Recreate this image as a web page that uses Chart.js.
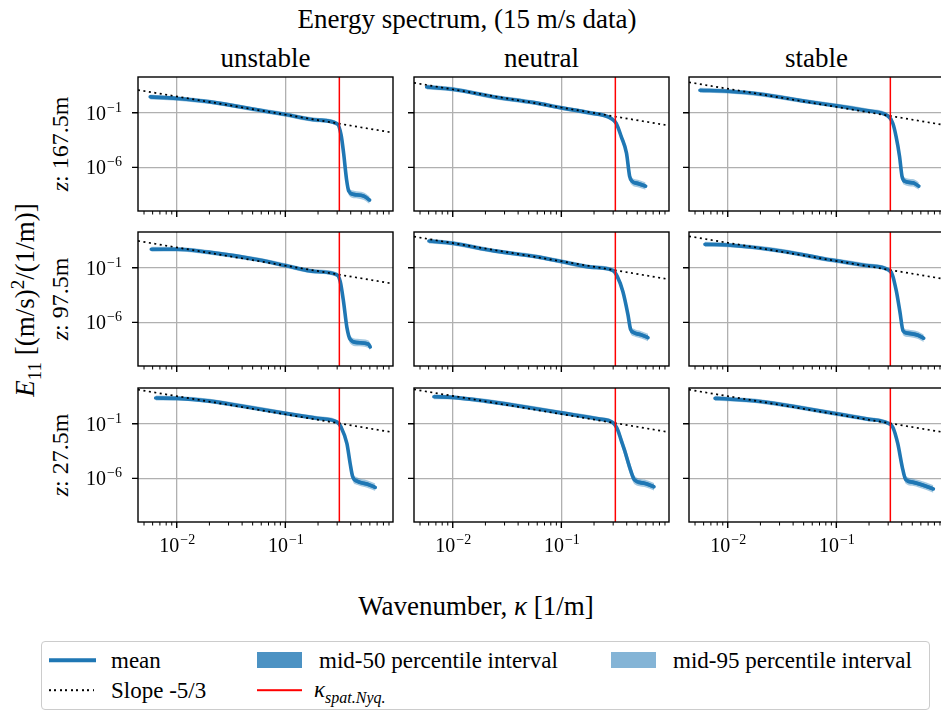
<!DOCTYPE html>
<html>
<head>
<meta charset="utf-8">
<script src="https://cdn.jsdelivr.net/npm/chart.js@4.4.1/dist/chart.umd.min.js"></script>
<style>
  body { margin: 0; width: 941px; height: 711px; overflow: hidden; background: #fff;
         font-family: "Liberation Serif", serif; color: #000; position: relative; }
  .txt { position: absolute; white-space: nowrap; transform: translate(-50%, -50%); line-height: 1; }
  .rot { transform: translate(-50%, -50%) rotate(-90deg); }
  .panel { position: absolute; }
  #legend { position: absolute; left: 41px; top: 641px; width: 889px; height: 69px;
            border: 1px solid #cccccc; border-radius: 4px; box-sizing: border-box; }
  .lg { position: absolute; transform: translateY(-50%); white-space: nowrap; font-size: 23px; line-height: 1; }
  .hd { position: absolute; transform: translateY(-50%); }
</style>
</head>
<body>

<div class="txt" style="left:467px;top:19px;font-size:27px">Energy spectrum, (15 m/s data)</div>
<div id="coltitles"></div>
<div id="rowlabels"></div>
<div class="txt rot" style="left:26px;top:300px;font-size:27px"><i>E</i><sub style="font-size:19px">11</sub> [(m/s)<sup style="font-size:19px">2</sup>/(1/m)]</div>
<div class="txt" style="left:476px;top:606px;font-size:27px">Wavenumber, <i>κ</i> [1/m]</div>

<div id="legend">
  <div class="hd" style="left:7px;top:18px;width:47px;height:3.5px;background:#1f77b4"></div>
  <div class="lg" style="left:69px;top:18px">mean</div>
  <div class="hd" style="left:215px;top:18px;width:45px;height:16px;background:#4c92c3"></div>
  <div class="lg" style="left:277px;top:18px">mid-50 percentile interval</div>
  <div class="hd" style="left:569px;top:18px;width:45px;height:16px;background:#84b4d6"></div>
  <div class="lg" style="left:631px;top:18px">mid-95 percentile interval</div>
  <div class="hd" style="left:7px;top:48px;width:45px;height:1.6px;background:repeating-linear-gradient(90deg,#000 0 2px,transparent 2px 5.5px)"></div>
  <div class="lg" style="left:69px;top:48px">Slope -5/3</div>
  <div class="hd" style="left:215px;top:48px;width:45px;height:1.6px;background:#ff0000"></div>
  <div class="lg" style="left:272px;top:50px"><i>κ</i><sub style="font-size:16px"><i>spat.Nyq.</i></sub></div>
</div>

<script>
// wavenumber [1/m] and mean spectrum E11 for each panel
const kUnstable167 = [0.0057, 0.01, 0.0202, 0.0697, 0.1, 0.196, 0.302, 0.326, 0.344, 0.366, 0.384, 0.427, 0.528, 0.597];
const eUnstable167 = [2.85, 2.04, 1.0, 0.123, 0.0700, 0.0219, 0.00933, 9.3e-4, 2.0e-5, 7.9e-8, 6.6e-9, 3.3e-9, 2.3e-9, 1.0e-9];
const kNeutral167  = [0.00575, 0.01, 0.024, 0.0562, 0.1, 0.175, 0.288, 0.320, 0.356, 0.398, 0.425, 0.447, 0.507, 0.597];
const eNeutral167  = [22.9, 14.1, 2.85, 0.85, 0.282, 0.105, 0.0300, 0.0107, 6.6e-4, 2.0e-5, 1.6e-7, 5.4e-8, 3.3e-8, 1.9e-8];
const kStable167   = [0.00555, 0.01, 0.0202, 0.0472, 0.1, 0.195, 0.299, 0.331, 0.355, 0.382, 0.402, 0.425, 0.507, 0.575];
const eStable167   = [11.5, 9.3, 5.0, 1.3, 0.437, 0.151, 0.0501, 0.011, 6.6e-4, 1.0e-5, 1.6e-7, 5.4e-8, 3.8e-8, 1.9e-8];

const kUnstable97 = [0.00583, 0.01, 0.0195, 0.0562, 0.1, 0.189, 0.299, 0.320, 0.343, 0.369, 0.395, 0.457, 0.583, 0.605];
const eUnstable97 = [5.0, 5.0, 2.7, 0.55, 0.162, 0.0457, 0.0229, 0.00562, 8.7e-5, 3.3e-7, 2.8e-8, 1.4e-8, 1.0e-8, 5.6e-9];
const kNeutral97  = [0.00604, 0.01, 0.024, 0.0605, 0.1, 0.188, 0.299, 0.327, 0.368, 0.410, 0.434, 0.466, 0.545, 0.628];
const eNeutral97  = [28.2, 17.4, 3.55, 1.0, 0.372, 0.115, 0.0562, 0.0162, 7.1e-4, 5.4e-6, 2.3e-7, 1.15e-7, 7.1e-8, 4.0e-8];
const kStable97   = [0.00617, 0.01, 0.0344, 0.0804, 0.1, 0.189, 0.300, 0.328, 0.357, 0.384, 0.412, 0.458, 0.566, 0.638];
const eStable97   = [14.1, 12.3, 3.0, 0.617, 0.437, 0.162, 0.066, 0.0229, 7.1e-4, 1.07e-5, 1.6e-7, 1.0e-7, 6.6e-8, 3.5e-8];

const kUnstable27 = [0.0064, 0.01, 0.0202, 0.0382, 0.1, 0.196, 0.300, 0.326, 0.369, 0.395, 0.417, 0.457, 0.565, 0.673];
const eUnstable27 = [22.9, 21.4, 12.0, 4.5, 0.9, 0.324, 0.141, 0.049, 1.5e-3, 2.3e-5, 1.4e-6, 5.6e-7, 3.0e-7, 1.5e-7];
const kNeutral27  = [0.00671, 0.01, 0.02, 0.0368, 0.1, 0.218, 0.299, 0.332, 0.355, 0.382, 0.434, 0.472, 0.583, 0.713];
const eNeutral27  = [30.2, 26.3, 12.0, 5.0, 1.0, 0.282, 0.123, 0.0245, 3.2e-3, 3.7e-4, 5.6e-6, 7.1e-7, 3.5e-7, 1.7e-7];
const kStable27   = [0.00764, 0.01, 0.02, 0.049, 0.1, 0.189, 0.300, 0.331, 0.368, 0.404, 0.434, 0.501, 0.583, 0.782];
const eStable27   = [21.4, 18.6, 11.2, 2.8, 0.813, 0.282, 0.112, 0.049, 1.5e-3, 1.15e-5, 8.1e-7, 4.5e-7, 3.0e-7, 1.07e-7];

// percentile intervals as multiplicative spread around the mean (per point)
const spread95          = [1.7, 1.6, 1.6, 1.6, 1.6, 1.6, 1.6, 1.8, 2.2, 2.4, 2.4, 2.2, 2.2, 2.2];
const spread50          = [1.3, 1.25, 1.25, 1.25, 1.25, 1.25, 1.25, 1.35, 1.5, 1.6, 1.6, 1.5, 1.5, 1.5];
const spread95Neutral27 = [1.7, 1.6, 1.6, 1.6, 1.6, 1.6, 1.6, 2.0, 3.0, 3.5, 3.5, 2.5, 2.2, 2.2];

// coefficient C of the reference line E = C * k^(-5/3), per panel
const slopeCoef = [1.45e-3, 6.5e-3, 7.4e-3, 3.4e-3, 8.5e-3, 9.1e-3, 1.58e-2, 1.66e-2, 1.58e-2];
const kNyquist  = 0.3142;

const colTitles = ['unstable', 'neutral', 'stable'];
const rowLabels = ['167.5m', '97.5m', '27.5m'];
const xMajor = [0.01, 0.1];
const xMinor = [0.005, 0.006, 0.007, 0.008, 0.009, 0.02, 0.03, 0.04, 0.05, 0.06, 0.07, 0.08, 0.09,
                0.2, 0.3, 0.4, 0.5, 0.6, 0.7, 0.8, 0.9];
const yMajor = [1e-6, 1e-1];
const xMin = 0.0044, xMax = 0.98, yMin = 1e-10, yMax = 190;

const panelK = [kUnstable167, kNeutral167, kStable167, kUnstable97, kNeutral97, kStable97, kUnstable27, kNeutral27, kStable27];
const panelE = [eUnstable167, eNeutral167, eStable167, eUnstable97, eNeutral97, eStable97, eUnstable27, eNeutral27, eStable27];

const colLeft = [138, 414, 689];
const rowTop  = [77, 232, 388];
const plotW = 255, plotH = 134;
const padL = 70, padT = 10, padR = 10, padB = 45;

function sciLabel(ctx, v, x, base, align) {
  const exp = '\u2212' + Math.abs(Math.round(Math.log10(v)));
  ctx.font = '20px "Liberation Serif"';
  const w1 = ctx.measureText('10').width;
  ctx.font = '14px "Liberation Serif"';
  const w2 = ctx.measureText(exp).width;
  const start = align === 'center' ? x - (w1 + w2) / 2 : x - w1 - w2;
  ctx.fillStyle = '#000';
  ctx.textAlign = 'left';
  ctx.textBaseline = 'alphabetic';
  ctx.font = '20px "Liberation Serif"';
  ctx.fillText('10', start, base);
  ctx.font = '14px "Liberation Serif"';
  ctx.fillText(exp, start + w1 + 1, base - 8);
}

const frame = {
  id: 'frame',
  afterDraw(chart, args, opts) {
    const { ctx, chartArea: a } = chart;
    const x = chart.scales.x, y = chart.scales.y;
    ctx.save();
    ctx.strokeStyle = '#000';
    ctx.lineWidth = 1;
    ctx.beginPath();
    xMinor.forEach(v => {
      const px = x.getPixelForValue(v);
      ctx.moveTo(px, a.bottom); ctx.lineTo(px, a.bottom + 3.5);
    });
    ctx.stroke();
    ctx.lineWidth = 1.4;
    ctx.beginPath();
    xMajor.forEach(v => {
      const px = x.getPixelForValue(v);
      ctx.moveTo(px, a.bottom); ctx.lineTo(px, a.bottom + 6);
    });
    yMajor.forEach(v => {
      const py = y.getPixelForValue(v);
      ctx.moveTo(a.left, py); ctx.lineTo(a.left - 6, py);
    });
    ctx.stroke();
    ctx.strokeRect(a.left, a.top, a.right - a.left, a.bottom - a.top);
    if (opts.xLabels) xMajor.forEach(v => sciLabel(ctx, v, x.getPixelForValue(v), a.bottom + 30, 'center'));
    if (opts.yLabels) yMajor.forEach(v => sciLabel(ctx, v, a.left - 17, y.getPixelForValue(v) + 7, 'right'));
    ctx.restore();
  }
};

function makePanel(row, col) {
  const i = row * 3 + col;
  const k = panelK[i], e = panelE[i];
  const s95 = i === 7 ? spread95Neutral27 : spread95;
  const pts = f => k.map((kk, j) => ({ x: kk, y: f(j) }));
  const c = slopeCoef[i];

  const wrap = document.createElement('div');
  wrap.className = 'panel';
  wrap.style.left = (colLeft[col] - padL) + 'px';
  wrap.style.top  = (rowTop[row] - padT) + 'px';
  const cv = document.createElement('canvas');
  cv.width  = plotW + padL + padR;
  cv.height = plotH + padT + padB;
  wrap.appendChild(cv);
  document.body.appendChild(wrap);

  const band = { borderWidth: 0, pointRadius: 0, cubicInterpolationMode: 'monotone' };
  return new Chart(cv.getContext('2d'), {
    type: 'line',
    data: {
      datasets: [
        { data: [{ x: kNyquist, y: yMin }, { x: kNyquist, y: yMax }],
          borderColor: '#ff0000', borderWidth: 1.5, pointRadius: 0, order: 0 },
        { data: [{ x: xMin, y: c * Math.pow(xMin, -5 / 3) }, { x: xMax, y: c * Math.pow(xMax, -5 / 3) }],
          borderColor: '#000', borderWidth: 1.7, borderDash: [2, 3.5], pointRadius: 0, order: 1 },
        { data: pts(j => e[j]), borderColor: '#1f77b4', borderWidth: 3.6, pointRadius: 0,
          cubicInterpolationMode: 'monotone', borderCapStyle: 'round', order: 2 },
        { ...band, data: pts(j => e[j] * spread50[j]), fill: '+1', backgroundColor: 'rgba(31,119,180,0.8)', order: 3 },
        { ...band, data: pts(j => e[j] / spread50[j]), fill: false, order: 3 },
        { ...band, data: pts(j => e[j] * s95[j]), fill: '+1', backgroundColor: 'rgba(31,119,180,0.4)', order: 4 },
        { ...band, data: pts(j => e[j] / s95[j]), fill: false, order: 4 },
      ]
    },
    options: {
      responsive: false,
      devicePixelRatio: 1,
      animation: false,
      layout: { padding: { left: 0, top: padT, right: padR, bottom: 0 } },
      plugins: {
        legend: { display: false },
        tooltip: { enabled: false },
        frame: { xLabels: row === 2, yLabels: col === 0 },
      },
      scales: {
        x: {
          type: 'logarithmic', min: xMin, max: xMax,
          afterBuildTicks: s => { s.ticks = xMajor.map(v => ({ value: v })); },
          afterFit: s => { s.height = padB; },
          ticks: { display: false },
          grid: { color: '#b0b0b0', lineWidth: 1.3, drawTicks: false },
          border: { display: false },
        },
        y: {
          type: 'logarithmic', min: yMin, max: yMax,
          afterBuildTicks: s => { s.ticks = yMajor.map(v => ({ value: v })); },
          afterFit: s => { s.width = padL; },
          ticks: { display: false },
          grid: { color: '#b0b0b0', lineWidth: 1.3, drawTicks: false },
          border: { display: false },
        },
      },
    },
    plugins: [frame],
  });
}

for (let r = 0; r < 3; r++) for (let c = 0; c < 3; c++) makePanel(r, c);

colTitles.forEach((t, c) => {
  const d = document.createElement('div');
  d.className = 'txt';
  d.style.cssText = `left:${colLeft[c] + plotW / 2}px;top:58px;font-size:27px`;
  d.textContent = t;
  document.getElementById('coltitles').appendChild(d);
});
rowLabels.forEach((t, r) => {
  const d = document.createElement('div');
  d.className = 'txt rot';
  d.style.cssText = `left:60px;top:${rowTop[r] + plotH / 2}px;font-size:24px`;
  d.innerHTML = '<i>z</i>: ' + t;
  document.getElementById('rowlabels').appendChild(d);
});
</script>
</body>
</html>
